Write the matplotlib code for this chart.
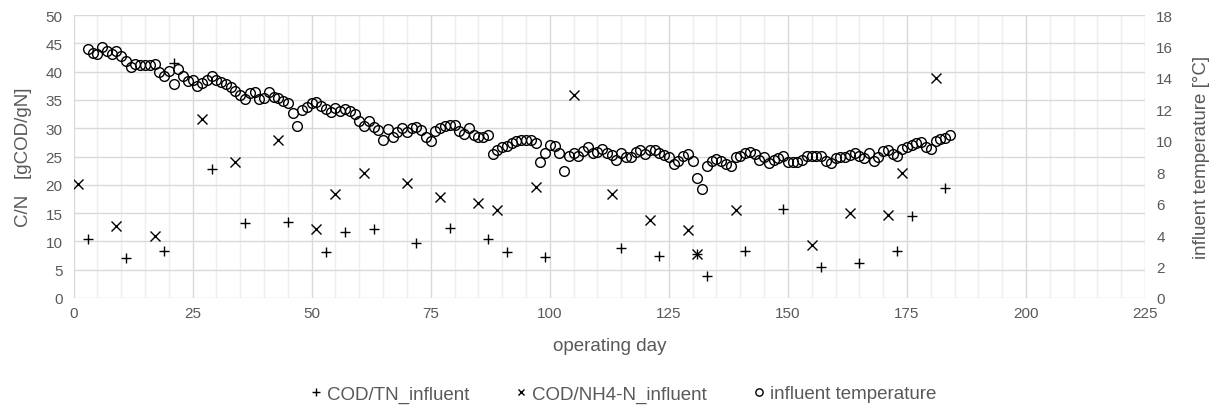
# C/N ratio and influent temperature over operating days
import numpy as np
import matplotlib.pyplot as plt
from matplotlib.ticker import MultipleLocator

# ---- data ----
# COD/TN influent (+)
tn_days = [3, 11, 19, 21, 29, 36, 45, 53, 57, 63, 72, 79, 87, 91, 99, 115, 123, 131, 133,
           141, 149, 157, 165, 173, 176, 183]
tn_values = [10.5, 7.1, 8.3, 41.6, 22.8, 13.3, 13.5, 8.1, 11.7, 12.1, 9.7, 12.4, 10.4, 8.2, 7.3,
             8.8, 7.4, 7.8, 3.8, 8.3, 15.7, 5.5, 6.1, 8.3, 14.4, 19.4]

# COD/NH4-N influent (x)
nh4_days = [1, 9, 17, 27, 34, 43, 51, 55, 61, 70, 77, 85, 89, 97, 105, 113, 121, 129, 131,
            139, 155, 163, 171, 174, 181]
nh4_values = [20.1, 12.8, 10.9, 31.7, 24.1, 28.0, 12.1, 18.4, 22.1, 20.4, 17.8, 16.7, 15.5,
              19.6, 35.9, 18.4, 13.8, 12.0, 7.8, 15.5, 9.4, 15.0, 14.7, 22.0, 38.9]

# influent temperature (o), daily from day 3 to day 184
temp_days = list(range(3, 185))
temp_values = [
    15.85, 15.6, 15.5, 15.95, 15.7, 15.55, 15.7, 15.4, 15.1, 14.7,      # 3-12
    14.9, 14.8, 14.8, 14.85, 14.9, 14.35, 14.1, 14.45, 13.6, 14.6,      # 13-22
    14.1, 13.8, 13.9, 13.5, 13.7, 13.9, 14.1, 13.9, 13.75, 13.6,        # 23-32
    13.4, 13.2, 12.9, 12.65, 13.05, 13.1, 12.65, 12.7, 13.1, 12.8,      # 33-42
    12.7, 12.55, 12.4, 11.75, 10.95, 11.96, 12.17, 12.4, 12.45, 12.2,   # 43-52
    12.0, 11.85, 12.07, 11.9, 12.0, 11.9, 11.7, 11.28, 10.96, 11.24,    # 53-62
    10.9, 10.7, 10.07, 10.75, 10.26, 10.54, 10.8, 10.58, 10.8, 10.86,   # 63-72
    10.69, 10.26, 10.0, 10.6, 10.8, 10.96, 11.0, 11.03, 10.6, 10.43,    # 73-82
    10.8, 10.37, 10.26, 10.26, 10.37, 9.16, 9.43, 9.59, 9.69, 9.84,     # 83-92
    10.0, 10.05, 10.05, 10.05, 9.86, 8.67, 9.22, 9.73, 9.65, 9.22,      # 93-102
    8.06, 9.01, 9.22, 9.01, 9.37, 9.63, 9.22, 9.27, 9.48, 9.22,         # 103-112
    9.12, 8.8, 9.22, 8.95, 8.95, 9.27, 9.43, 9.16, 9.43, 9.43,          # 113-122
    9.2, 9.07, 8.95, 8.52, 8.73, 9.01, 9.16, 8.73, 7.63, 6.93,          # 123-132
    8.42, 8.73, 8.84, 8.73, 8.52, 8.42, 8.95, 9.01, 9.22, 9.31,         # 133-142
    9.16, 8.78, 8.95, 8.59, 8.78, 8.89, 9.01, 8.63, 8.63, 8.63,         # 143-152
    8.8, 9.05, 9.05, 9.05, 9.05, 8.73, 8.59, 8.89, 8.95, 8.95,          # 153-162
    9.1, 9.22, 9.05, 8.89, 9.2, 8.73, 8.95, 9.33, 9.43, 9.16,           # 163-172
    9.01, 9.48, 9.63, 9.73, 9.84, 9.94, 9.59, 9.48, 10.0, 10.11,        # 173-182
    10.16, 10.37,                                                       # 183-184
]

# ---- style ----
plt.rcParams['font.family'] = ['Liberation Sans', 'DejaVu Sans']
text_grey = '#595959'

fig = plt.figure(figsize=(12.26, 4.14), dpi=100)
ax = fig.add_axes([0.06, 0.278, 0.874, 0.683])
ax2 = ax.twinx()

# left axis: C/N ratios
ax.plot(tn_days, tn_values, linestyle='none', marker='+', ms=7, mew=1.0, color='black',
        label='COD/TN_influent', zorder=3)
ax.plot(nh4_days, nh4_values, linestyle='none', marker='x', ms=6.5, mew=1.0, color='black',
        label='COD/NH4-N_influent', zorder=3)

# right axis: temperature
ax2.plot(temp_days, temp_values, linestyle='none', marker='o', ms=7, mew=1.0,
         markerfacecolor='none', markeredgecolor='black', label='influent temperature')

ax.set_xlim(0, 225)
ax.set_ylim(0, 50)
ax2.set_ylim(0, 18)
ax.xaxis.set_major_locator(MultipleLocator(25))
ax.xaxis.set_minor_locator(MultipleLocator(5))
ax.yaxis.set_major_locator(MultipleLocator(5))
ax2.yaxis.set_major_locator(MultipleLocator(2))

# excel-like grid
ax.grid(which='minor', axis='x', color='#eeeeee', linewidth=1.0)
ax.grid(which='major', axis='x', color='#d9d9d9', linewidth=1.0)
ax.grid(which='major', axis='y', color='#d9d9d9', linewidth=1.0)
ax.set_axisbelow(True)

for a in (ax, ax2):
    for s in a.spines.values():
        s.set_visible(False)
    a.tick_params(which='both', length=0, labelsize=11, labelcolor=text_grey)
ax.tick_params(axis='x', pad=6)
ax.tick_params(axis='y', pad=8)
ax2.tick_params(axis='y', pad=8)

ax.set_xlabel('operating day', fontsize=13.5, color=text_grey, labelpad=12)
ax.set_ylabel('C/N   [gCOD/gN]', fontsize=13.5, color=text_grey, labelpad=10)
ax2.set_ylabel('influent temperature [°C]', fontsize=13.5, color=text_grey, labelpad=14)

# legend under the chart
h1, l1 = ax.get_legend_handles_labels()
h2, l2 = ax2.get_legend_handles_labels()
leg = fig.legend(h1 + h2, l1 + l2, loc='center', bbox_to_anchor=(0.508, 0.046), ncol=3,
                 frameon=False, fontsize=13.5, markerscale=0.75, handlelength=0.7,
                 handletextpad=0.25, columnspacing=2.4)
for t in leg.get_texts():
    t.set_color(text_grey)

fig.savefig('out.png', dpi=100)
